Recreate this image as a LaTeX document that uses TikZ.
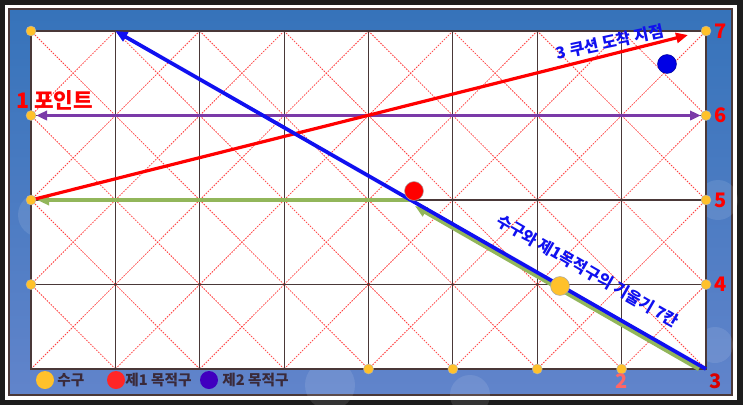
\documentclass[tikz,border=0pt]{standalone}
\usepackage{fontspec}
\setmainfont{Noto Sans CJK KR}
\usetikzlibrary{arrows.meta}
\definecolor{darkbg}{HTML}{1C1C1C}
\definecolor{railtop}{HTML}{3673BA}
\definecolor{railbot}{HTML}{6184CB}
\definecolor{gridline}{HTML}{4A3838}
\definecolor{cueyellow}{HTML}{FFC12B}
\definecolor{shotgreen}{HTML}{92B65A}
\definecolor{pointpurple}{HTML}{7A3AA8}
\definecolor{shotblue}{HTML}{1010F0}
\definecolor{legendtext}{HTML}{3A2A3A}
\tikzset{
  ball/.style={circle,draw=gray!70,line width=0.4pt,minimum size=14.2pt,inner sep=0pt},
  dot/.style={circle,fill=cueyellow,draw=gray!60,line width=0.3pt,minimum size=7.5pt,inner sep=0pt},
  num/.style={text=red,font=\bfseries\fontsize{15}{15}\selectfont},
  tip/.style={-{Triangle[length=9pt,width=7.5pt]}},
  legend/.style={text=legendtext,font=\bfseries\fontsize{11}{11}\selectfont,anchor=west,inner sep=0pt},
  slope/.style={text=shotblue,font=\bfseries\fontsize{12}{12}\selectfont,inner sep=0pt}
}
\begin{document}
\begin{tikzpicture}[x=0.75pt,y=-0.75pt]
  \useasboundingbox (0,0) rectangle (743,405);
  % frame
  \fill[darkbg] (0,0) rectangle (743,405);
  \fill[white] (5,5) rectangle (737,400);
  \shade[top color=railtop,bottom color=railbot,draw=gridline,line width=1.2pt] (9,9) rectangle (732,395);
  \foreach \x/\y/\r in {40/215/22, 718/200/20, 715/345/18, 330/385/25, 470/395/20, 60/280/12}{
    \fill[white,opacity=0.1] (\x,\y) circle (\r);
  }
  % table points
  \foreach \i in {0,...,8}{
    \foreach \j in {0,...,4}{
      \coordinate (P-\i-\j) at ({31+84.375*\i},{31+84.5*\j});
    }
  }
  \fill[white] (P-0-0) rectangle (P-8-4);
  % diagonals
  \foreach \i [evaluate=\i as \k using int(\i+1)] in {0,...,7}{
    \foreach \j [evaluate=\j as \m using int(\j+1)] in {0,...,3}{
      \draw[red!75,line width=0.6pt,dash pattern=on 1.2pt off 0.9pt] (P-\i-\j) -- (P-\k-\m) (P-\k-\j) -- (P-\i-\m);
    }
  }
  \foreach \i in {1,...,7}{
    \draw[gridline,line width=0.8pt] (P-\i-0) -- (P-\i-4);
  }
  \foreach \j in {1,...,3}{
    \draw[gridline,line width=0.8pt] (P-0-\j) -- (P-8-\j);
  }
  \draw[gridline,line width=1.2pt] (P-0-0) rectangle (P-8-4);
  % shot lines
  \coordinate (cueStart) at (699,369);
  \coordinate (hitPt) at (415,206);
  \coordinate (hitRow) at (414,200);
  \coordinate (redEnd) at (688,35);
  \draw[shotgreen,line width=3.2pt,tip] (cueStart) -- (hitPt);
  \draw[shotgreen,line width=3.2pt,tip] (hitRow) -- ([xshift=4.5pt]P-0-2);
  \draw[pointpurple,line width=2.6pt,{Triangle[length=8pt,width=7pt]}-{Triangle[length=8pt,width=7pt]},shorten <=4pt,shorten >=4pt] (P-0-1) -- (P-8-1);
  \draw[red,line width=2.4pt,tip] (P-0-2) -- (redEnd);
  \draw[shotblue,line width=2.8pt,tip] (P-8-4) -- (P-1-0);
  % rail points
  \foreach \p in {0-0,0-1,0-2,0-3,4-4,5-4,6-4,7-4,8-0,8-1,8-2,8-3}{
    \node[dot](D\p) at (P-\p){};
  }
  \foreach \n/\p in {7/8-0, 6/8-1, 5/8-2, 4/8-3}{
    \node[num,anchor=west,inner sep=0pt](L\n) at ([xshift=6pt]P-\p){\n};
  }
  \node[num,text=red!85!black](L3) at (716,381){3};
  \node[num,text=red!60](L2) at (622,381){2};
  \node[num,anchor=west,inner sep=0pt,font=\bfseries\fontsize{16}{16}\selectfont](L1) at (16,100){1 포인트};
  % balls
  \node[ball,fill=red](obj1) at (414,191){};
  \node[ball,fill=cueyellow](cue) at (560,286){};
  \node[ball,fill=blue!90!black,draw=blue!60!black](obj2) at (667,64){};
  % slope texts
  \node[slope,rotate=12](arrive) at (610,42){3 쿠션 도착 지점};
  \node[slope,rotate=-30](slopeTxt) at (588,271){수구와 제1목적구의 기울기 7칸};
  % legend
  \node[ball,fill=cueyellow,draw=none,minimum size=13.5pt](LgCue) at (45,380){};
  \node[legend](LtCue) at (57,380){수구};
  \node[ball,fill=red!85,draw=none,minimum size=13.5pt](LgObj1) at (116,380){};
  \node[legend](LtObj1) at (125,380){제1 목적구};
  \node[ball,fill=blue!75!red,draw=none,minimum size=13.5pt](LgObj2) at (209,380){};
  \node[legend](LtObj2) at (222,380){제2 목적구};
\end{tikzpicture}
\end{document}
